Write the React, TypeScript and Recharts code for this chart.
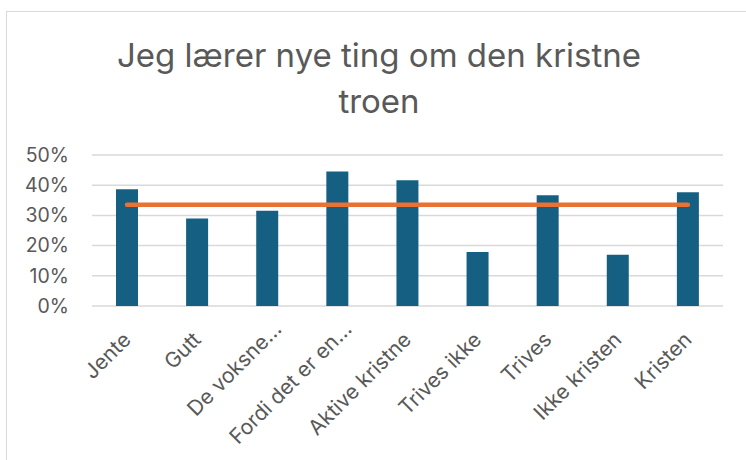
import React from 'react';
import { ComposedChart, Bar, Line, XAxis, YAxis, CartesianGrid } from 'recharts';

const categories = [
  'Jente',
  'Gutt',
  'De voksne…',
  'Fordi det er en…',
  'Aktive kristne',
  'Trives ikke',
  'Trives',
  'Ikke kristen',
  'Kristen',
];
const shares = [0.387, 0.29, 0.315, 0.445, 0.416, 0.179, 0.367, 0.17, 0.377];
const average = [0.335, 0.335, 0.335, 0.335, 0.335, 0.335, 0.335, 0.335, 0.335];
const yTicks = [0, 0.1, 0.2, 0.3, 0.4, 0.5];
const titleLines = ['Jeg lærer nye ting om den kristne', 'troen'];

const data = categories.map((name, i) => ({ name, share: shares[i], avg: average[i] }));

const FONT = 'Inter, "Open Sans", "Liberation Sans", Arial, sans-serif';
const TEXT = '#595959';
const W = 746;
const H = 460;
const PLOT_TOP = 155;
const PLOT_BOTTOM = 306;

const YTick = (props: any) => {
  const { y, payload } = props;
  return (
    <text x={69} y={y} dy={6.8} textAnchor="end" fill={TEXT} fontSize={19.5} fontFamily={FONT}>
      {`${Math.round(payload.value * 100)}%`}
    </text>
  );
};

const XTick = (props: any) => {
  const { x, payload } = props;
  const label: string = payload.value;
  const extra = label.endsWith('…') ? 15 : 0;
  const ax = x + 5 + extra * 0.707;
  const ay = PLOT_BOTTOM + 35 - extra * 0.707;
  return (
    <text
      x={ax}
      y={ay}
      transform={`rotate(-45 ${ax} ${ay})`}
      textAnchor="end"
      fill={TEXT}
      fontSize={21}
      fontFamily={FONT}
    >
      {label}
    </text>
  );
};

export default function App() {
  return (
    <div style={{ position: 'absolute', left: 0, top: 0, width: W, height: H, overflow: 'hidden', background: '#fff' }}>
      <div
        style={{
          position: 'absolute',
          left: 6,
          top: 11,
          width: 800,
          height: 520,
          border: '1px solid #d9d9d9',
          boxSizing: 'border-box',
        }}
      />
      <div
        style={{
          position: 'absolute',
          left: 0,
          width: 758,
          top: 32,
          lineHeight: '46px',
          textAlign: 'center',
          fontFamily: FONT,
          fontSize: 33,
          color: TEXT,
        }}
      >
        {titleLines[0]}
        <br />
        {titleLines[1]}
      </div>
      <div style={{ position: 'absolute', left: 0, top: 0 }}>
        <ComposedChart
          width={W}
          height={H}
          data={data}
          margin={{ top: PLOT_TOP, right: 23, bottom: 0, left: 0 }}
        >
          <CartesianGrid vertical={false} stroke="#d9d9d9" strokeWidth={1.5} />
          <XAxis
            dataKey="name"
            height={H - PLOT_BOTTOM}
            axisLine={false}
            tickLine={false}
            interval={0}
            tick={<XTick />}
          />
          <YAxis
            width={92}
            domain={[0, 0.5]}
            ticks={yTicks}
            axisLine={false}
            tickLine={false}
            tick={<YTick />}
          />
          <Bar dataKey="share" fill="#156082" barSize={22} isAnimationActive={false} />
          <Line
            type="linear"
            dataKey="avg"
            stroke="#E97132"
            strokeWidth={4.5}
            strokeLinecap="round"
            dot={false}
            activeDot={false}
            isAnimationActive={false}
          />
        </ComposedChart>
      </div>
    </div>
  );
}
